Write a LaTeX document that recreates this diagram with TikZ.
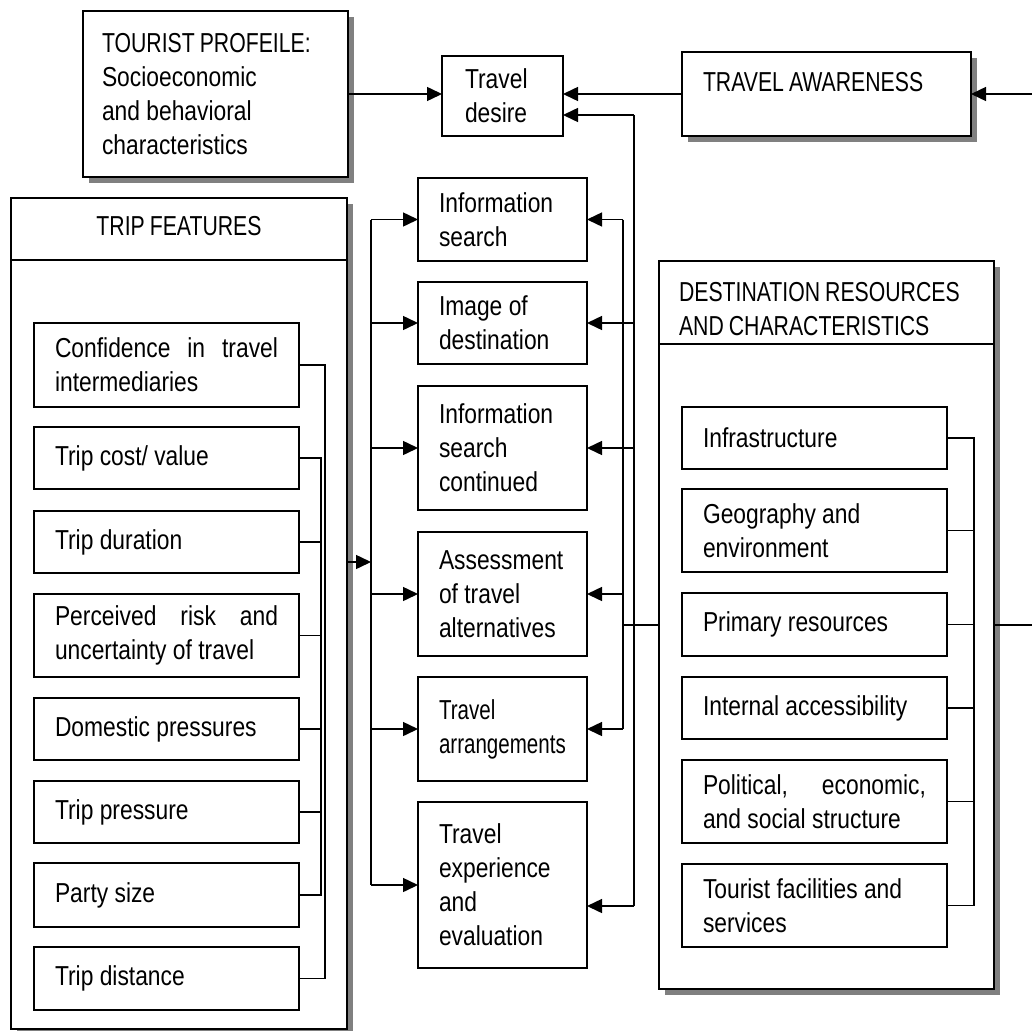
\documentclass[tikz,border=0pt]{standalone}
\usepackage{fontspec}
\setmainfont{Liberation Sans}[FakeStretch=0.833]
\newfontfamily\capsfont{Liberation Sans}[FakeStretch=0.775,WordSpace=0.85]
\newfontfamily\narrowfont{Liberation Sans}[FakeStretch=0.75]
\usetikzlibrary{arrows.meta,shadows}
\newcommand{\myfs}{\fontsize{27.4pt}{34pt}\selectfont\hyphenpenalty=10000 \tolerance=9999 }
\begin{document}
\begin{tikzpicture}[x=1pt,y=-1pt,
  box/.style={draw, line width=1.8pt, fill=white, inner sep=0pt, outer sep=0pt,
    anchor=north west, align=flush left, font=\myfs},
  shbox/.style={box, drop shadow={shadow xshift=6pt, shadow yshift=-6pt, fill=black!50, opacity=1}},
  jbox/.style={box, align=justify},
  txt/.style={inner sep=0pt, outer sep=0pt, font=\myfs, align=flush left},
  conn/.style={line width=1.5pt},
  brk/.style={line width=1.3pt},
  arr/.style={conn, -{Triangle[length=15pt,width=14pt]}}]
\useasboundingbox (0,0) rectangle (1032,1030);

% top row
\node[shbox, minimum width=265pt, minimum height=166pt, text width=227pt] (tp) at (83,11)
  {{\capsfont TOURIST PROFEILE:}\\Socioeconomic\\and behavioral\\characteristics};
\node[box, minimum width=121pt, minimum height=80pt, text width=75pt] (td) at (442,56) {Travel\\desire};
\node[shbox, minimum width=289pt, minimum height=84pt] (ta) at (682,52) {};
\node[txt, anchor=north west] (tat) at (703,72) {\capsfont TRAVEL AWARENESS};

% trip features
\node[shbox, minimum width=336pt, minimum height=831pt] (tf) at (11,198) {};
\draw[line width=1.8pt] ([yshift=-62pt]tf.north west) -- ([yshift=-62pt]tf.north east);
\node[txt] (tft) at ([yshift=-28pt]tf.north) {\capsfont TRIP FEATURES};

\node[jbox, minimum width=265pt, minimum height=84pt, text width=223pt] (c1) at (34,323) {Confidence in travel intermediaries};
\node[box, minimum width=265pt, minimum height=62pt, text width=223pt] (c2) at (34,427) {Trip cost/ value};
\node[box, minimum width=265pt, minimum height=62pt, text width=223pt] (c3) at (34,511) {Trip duration};
\node[jbox, minimum width=265pt, minimum height=83pt, text width=223pt] (c4) at (34,594) {Perceived risk and uncertainty of travel};
\node[box, minimum width=265pt, minimum height=62pt, text width=223pt] (c5) at (34,698) {Domestic pressures};
\node[box, minimum width=265pt, minimum height=62pt, text width=223pt] (c6) at (34,781) {Trip pressure};
\node[box, minimum width=265pt, minimum height=64pt, text width=223pt] (c7) at (34,863) {Party size};
\node[box, minimum width=265pt, minimum height=63pt, text width=223pt] (c8) at (34,947) {Trip distance};

% middle column
\node[box, minimum width=169pt, minimum height=83pt, text width=127pt] (m1) at (418,178) {Information\\search};
\node[box, minimum width=169pt, minimum height=82pt, text width=127pt] (m2) at (418,282) {Image of\\destination};
\node[box, minimum width=169pt, minimum height=124pt, text width=127pt] (m3) at (418,386) {Information\\search\\continued};
\node[box, minimum width=169pt, minimum height=124pt, text width=127pt] (m4) at (418,532) {Assessment\\of travel\\alternatives};
\node[box, minimum width=169pt, minimum height=104pt, text width=127pt] (m5) at (418,677) {{\narrowfont Travel}\\{\narrowfont arrangements}};
\node[box, minimum width=169pt, minimum height=166pt, text width=127pt] (m6) at (418,802) {Travel\\experience\\and\\evaluation};

% destination
\node[shbox, minimum width=335pt, minimum height=728pt] (db) at (659,261) {};
\draw[line width=1.8pt] ([yshift=-83pt]db.north west) -- ([yshift=-83pt]db.north east);
\node[txt, anchor=north west] (dbt) at (679,282) {\capsfont DESTINATION RESOURCES\\\capsfont AND CHARACTERISTICS};

\node[box, minimum width=265pt, minimum height=62pt, text width=223pt] (d1) at (682,407) {Infrastructure};
\node[box, minimum width=265pt, minimum height=83pt, text width=223pt] (d2) at (682,489) {Geography and\\environment};
\node[box, minimum width=265pt, minimum height=63pt, text width=223pt] (d3) at (682,593) {Primary resources};
\node[box, minimum width=265pt, minimum height=62pt, text width=223pt] (d4) at (682,677) {Internal accessibility};
\node[jbox, minimum width=265pt, minimum height=83pt, text width=223pt] (d5) at (682,760) {Political, economic, and social structure};
\node[box, minimum width=265pt, minimum height=83pt, text width=223pt] (d6) at (682,864) {Tourist facilities and\\services};

% bus coordinates
\coordinate (lb) at (371,0);
\coordinate (rb1) at (623,0);
\coordinate (rb2) at (634,0);
\coordinate (tb1) at (325,0);
\coordinate (tb2) at (321,0);
\coordinate (dbr) at (974,0);
\coordinate (edge) at (1040,0);
\coordinate (tfo) at ([yshift=51.5pt]tf.east);
\coordinate (tdi) at ([yshift=-19pt]td.east);
\coordinate (m6i) at ([yshift=-21pt]m6.east);

% top connectors
\draw[arr] (tp.east) -- (tp.east -| td.west);
\draw[arr] (ta.west) -- (ta.west -| td.east);
\draw[arr] (db.east) -- (edge |- db.east) |- (ta.east);

% left bus
\draw[arr] (tfo) -- (lb |- tfo);
\draw[conn] (lb |- m1.west) -- (lb |- m6.west);
\foreach \m in {m1,m2,m3,m4,m5,m6} \draw[arr] (lb |- \m.west) -- (\m.west);

% right buses
\draw[conn] (rb1 |- m1.east) -- (rb1 |- m5.east);
\foreach \m in {m1,m4,m5} \draw[arr] (rb1 |- \m.east) -- (\m.east);
\draw[conn] (rb2 |- tdi) -- (rb2 |- m6i);
\draw[arr] (rb2 |- tdi) -- (tdi);
\draw[arr] (rb2 |- m2.east) -- (m2.east);
\draw[arr] (rb2 |- m3.east) -- (m3.east);
\draw[arr] (rb2 |- m6i) -- (m6i);
\draw[conn] (db.west) -- (rb1 |- db.west);

% trip brackets
\draw[brk] (c1.east) -- (tb1 |- c1.east) -- (tb1 |- c8.east) -- (c8.east);
\draw[brk] (c2.east) -- (tb2 |- c2.east) -- (tb2 |- c7.east) -- (c7.east);
\foreach \c in {c3,c4,c5,c6} \draw[brk] (\c.east) -- (tb2 |- \c.east);

% destination bracket
\draw[brk] (d1.east) -- (dbr |- d1.east) -- (dbr |- d6.east) -- (d6.east);
\foreach \d in {d2,d3,d4,d5} \draw[brk] (\d.east) -- (dbr |- \d.east);
\end{tikzpicture}
\end{document}
